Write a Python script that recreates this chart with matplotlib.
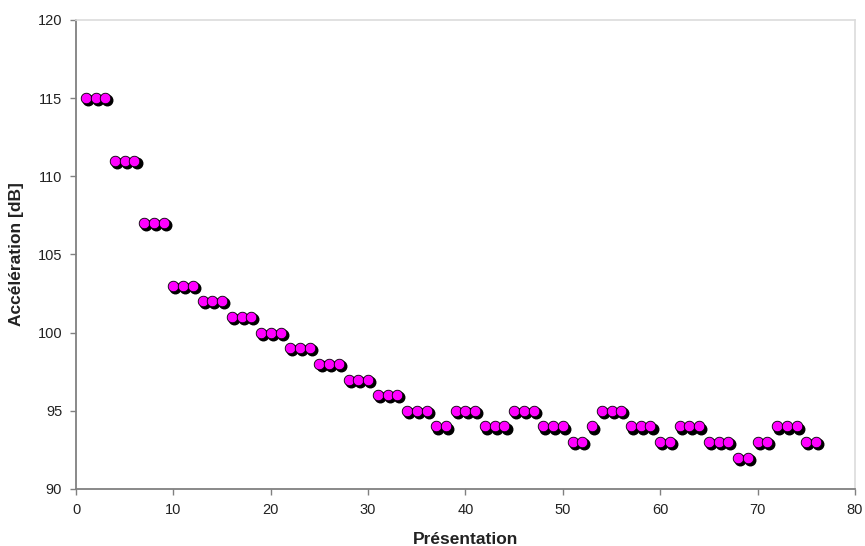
import matplotlib
matplotlib.use("Agg")
import matplotlib.pyplot as plt
import matplotlib.transforms as mtransforms

# presentation number and acceleration level [dB]
presentation = list(range(1, 77))
acceleration = [
    115, 115, 115,
    111, 111, 111,
    107, 107, 107,
    103, 103, 103,
    102, 102, 102,
    101, 101, 101,
    100, 100, 100,
    99, 99, 99,
    98, 98, 98,
    97, 97, 97,
    96, 96, 96,
    95, 95, 95,
    94, 94,
    95, 95, 95,
    94, 94, 94,
    95, 95, 95,
    94, 94, 94,
    93, 93,
    94,
    95, 95, 95,
    94, 94, 94,
    93, 93,
    94, 94, 94,
    93, 93, 93,
    92, 92,
    93, 93,
    94, 94, 94,
    93, 93,
]
x_ticks = list(range(0, 81, 10))
y_ticks = list(range(90, 121, 5))

plt.rcParams['font.family'] = ['Liberation Sans', 'DejaVu Sans']

fig = plt.figure(figsize=(8.65, 5.46), dpi=100)
ax = fig.add_axes([0.0879, 0.1044, 0.9005, 0.859])

# drop shadow under the markers
shadow = mtransforms.offset_copy(ax.transData, fig=fig, x=1.5, y=-1.5, units='points')
ax.plot(presentation, acceleration, 'o', ms=7.6, color='black', mec='black',
        transform=shadow, zorder=2, clip_on=False)
ax.plot(presentation, acceleration, 'o', ms=7.6, color='#ff00ff', mec='black',
        mew=0.6, zorder=3, clip_on=False)

ax.set_xlim(0, 80)
ax.set_ylim(90, 120)
ax.set_xticks(x_ticks)
ax.set_yticks(y_ticks)

# light plot-area border on top/right, darker axis lines
for side in ['top', 'right']:
    ax.spines[side].set_color('#dcdcdc')
    ax.spines[side].set_linewidth(1.2)
for side in ['left', 'bottom']:
    ax.spines[side].set_color('#808080')
    ax.spines[side].set_linewidth(1.3)
ax.tick_params(direction='out', length=4, width=1, color='#808080',
               labelsize=10.5, labelcolor='#222222', pad=6)

ax.set_xlabel('Présentation', fontsize=12.5, fontweight='bold', color='#222222', labelpad=11)
ax.set_ylabel('Accélération [dB]', fontsize=12.5, fontweight='bold', color='#222222', labelpad=10)

fig.savefig('out.png', dpi=100)
